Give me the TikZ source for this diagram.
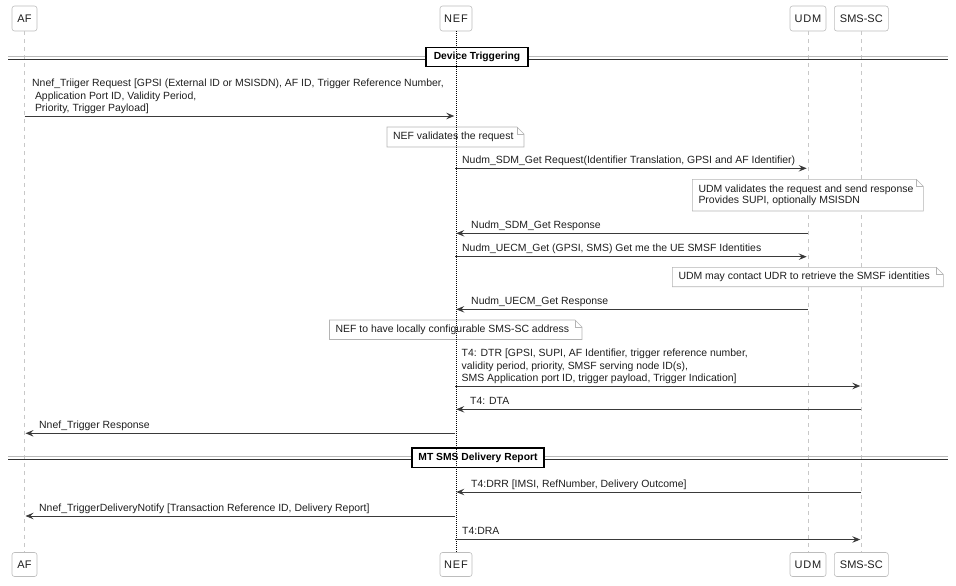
\documentclass[tikz,border=0pt]{standalone}
\usepackage{fontspec}
\setmainfont{Liberation Sans}
\newfontfamily\spacedfont[LetterSpace=8]{Liberation Sans}
\usetikzlibrary{arrows.meta}
\definecolor{arrowgray}{HTML}{3A3A3A}
\definecolor{notegray}{HTML}{B4B4B4}
\definecolor{lifegray}{HTML}{C8C8C8}
\definecolor{boxgray}{HTML}{BDBDBD}
\definecolor{txt}{HTML}{1E1E1E}
\newcommand\umlnote[6]{%
  \fill[white] (#2,#3) rectangle (#4,#5);
  \draw[notegray, line width=0.6pt] (#2,#3) -- (#4-7,#3) -- (#4,#3+7) -- (#4,#5) -- (#2,#5) -- cycle;
  \draw[notegray, line width=0.6pt] (#4-7,#3) -- (#4-7,#3+7) -- (#4,#3+7);
  \node[notetxt] (#1) at (#2+6,{(#3+#5)/2}) {#6};}
\begin{document}
\begin{tikzpicture}[x=1pt,y=-1pt,
  lbl/.style={anchor=south west, inner sep=0pt, text depth=2.3pt, align=left, text=txt,
              font=\fontsize{10.45}{12.2}\selectfont},
  notetxt/.style={anchor=west, inner sep=0pt, align=left, text=txt,
              font=\fontsize{10.45}{11.4}\selectfont},
  msg/.style={draw=arrowgray, line width=0.9pt, -{Stealth[length=8pt,width=6.5pt,inset=3pt]}, shorten >=1pt},
  part/.style={draw=boxgray, fill=white, rounded corners=2.5pt, line width=0.6pt, inner sep=0pt,
              text=txt, font=\fontsize{11}{13}\selectfont},
  life/.style={draw=lifegray, line width=0.7pt, dash pattern=on 4pt off 4pt},
  divbox/.style={draw=black, line width=1.4pt, fill=white, inner sep=0pt, minimum height=19.5pt,
              text=black, font=\bfseries\fontsize{10.3}{12}\selectfont},
  divA/.style={draw=gray!55, line width=0.9pt},
  divB/.style={draw=black!80, line width=0.9pt}]
\useasboundingbox (0,0) rectangle (956,586);
% participants
\node[part, minimum width=25pt, minimum height=25pt] (afT) at (24.5,18.5) {AF};
\node[part, minimum width=32pt, minimum height=25pt] (nefT) at (456,18.5) {\spacedfont NEF};
\node[part, minimum width=36pt, minimum height=25pt] (udmT) at (808,18.5) {\spacedfont UDM};
\node[part, minimum width=54pt, minimum height=25pt] (smsT) at (861.3,18.5) {SMS-SC};
\node[part, minimum width=25pt, minimum height=24pt] (afB) at (24.5,564.5) {AF};
\node[part, minimum width=32pt, minimum height=24pt] (nefB) at (456,564.5) {\spacedfont NEF};
\node[part, minimum width=36pt, minimum height=24pt] (udmB) at (808,564.5) {\spacedfont UDM};
\node[part, minimum width=54pt, minimum height=24pt] (smsB) at (861.3,564.5) {SMS-SC};
% lifelines
\draw[life] (afT.south) -- (afB.north);
\draw[life] (udmT.south) -- (udmB.north);
\draw[life] (smsT.south) -- (smsB.north);
% divider 1
\coordinate (d1l) at (8,56.8); \coordinate (d1r) at (948,56.8);
\coordinate (d1l2) at (8,59.6); \coordinate (d1r2) at (948,59.6);
\draw[divA] (d1l) -- (d1r);
\draw[divB] (d1l2) -- (d1r2);
\node[divbox, minimum width=102pt] (div1) at (477,57) {Device Triggering};
% divider 2
\coordinate (d2l) at (8,456.7); \coordinate (d2r) at (948,456.7);
\coordinate (d2l2) at (8,459.5); \coordinate (d2r2) at (948,459.5);
\draw[divA] (d2l) -- (d2r);
\draw[divB] (d2l2) -- (d2r2);
\node[divbox, minimum width=132pt] (div2) at (478,457.8) {MT SMS Delivery Report};
% notes
\umlnote{n1}{387}{127}{524}{147}{NEF validates the request}
\umlnote{n2}{692.3}{179.3}{923.3}{211}{UDM validates the request and send response\\Provides SUPI, optionally MSISDN}
\umlnote{n3}{672.3}{267.3}{943.3}{286.7}{UDM may contact UDR to retrieve the SMSF identities}
\umlnote{n4}{329.5}{320}{582}{339.5}{NEF to have locally configurable SMS-SC address}
% NEF lifeline (dotted, on top)
\draw[black, line width=0.7pt, dash pattern=on 1pt off 1pt] (nefT.south) -- (nefB.north);
% message anchor points
\coordinate (m1s) at (24.5,116);   \coordinate (m1e) at (455.3,116);
\coordinate (m2s) at (455.3,168.3); \coordinate (m2e) at (807.7,168.3);
\coordinate (m3s) at (807.7,233.3); \coordinate (m3e) at (455.3,233.3);
\coordinate (m4s) at (455.3,256.7); \coordinate (m4e) at (807.7,256.7);
\coordinate (m5s) at (807.7,309.3); \coordinate (m5e) at (455.3,309.3);
\coordinate (m6s) at (455.3,386);   \coordinate (m6e) at (861.3,386);
\coordinate (m7s) at (861.3,409.3); \coordinate (m7e) at (455.3,409.3);
\coordinate (m8s) at (455.3,433.3); \coordinate (m8e) at (24.5,433.3);
\coordinate (m9s) at (861.3,492);   \coordinate (m9e) at (455.3,492);
\coordinate (m10s) at (455.3,516);  \coordinate (m10e) at (24.5,516);
\coordinate (m11s) at (455.3,539.5); \coordinate (m11e) at (861.3,539.5);
% messages
\draw[msg] (m1s) -- (m1e);
\node[lbl] (l1) at (32,113.7) {Nnef\_Triiger Request [GPSI (External ID or MSISDN), AF ID, Trigger Reference Number,\\\hspace*{2.8pt}Application Port ID, Validity Period,\\\hspace*{2.8pt}Priority, Trigger Payload]};
\draw[msg] (m2s) -- (m2e);
\node[lbl] (l2) at (462,166) {Nudm\_SDM\_Get Request(Identifier Translation, GPSI and AF Identifier)};
\draw[msg] (m3s) -- (m3e);
\node[lbl] (l3) at (471,231) {Nudm\_SDM\_Get Response};
\draw[msg] (m4s) -- (m4e);
\node[lbl] (l4) at (462,254.4) {Nudm\_UECM\_Get (GPSI, SMS) Get me the UE SMSF Identities};
\draw[msg] (m5s) -- (m5e);
\node[lbl] (l5) at (471,307) {Nudm\_UECM\_Get Response};
\draw[msg] (m6s) -- (m6e);
\node[lbl] (l6) at (461.5,383.7) {T4: DTR [GPSI, SUPI, AF Identifier, trigger reference number,\\validity period, priority, SMSF serving node ID(s),\\SMS Application port ID, trigger payload, Trigger Indication]};
\draw[msg] (m7s) -- (m7e);
\node[lbl] (l7) at (470,407) {T4: DTA};
\draw[msg] (m8s) -- (m8e);
\node[lbl] (l8) at (39,431) {Nnef\_Trigger Response};
\draw[msg] (m9s) -- (m9e);
\node[lbl] (l9) at (471,489.7) {T4:DRR [IMSI, RefNumber, Delivery Outcome]};
\draw[msg] (m10s) -- (m10e);
\node[lbl] (l10) at (39,513.7) {Nnef\_TriggerDeliveryNotify [Transaction Reference ID, Delivery Report]};
\draw[msg] (m11s) -- (m11e);
\node[lbl] (l11) at (462,537.2) {T4:DRA};
\end{tikzpicture}
\end{document}
